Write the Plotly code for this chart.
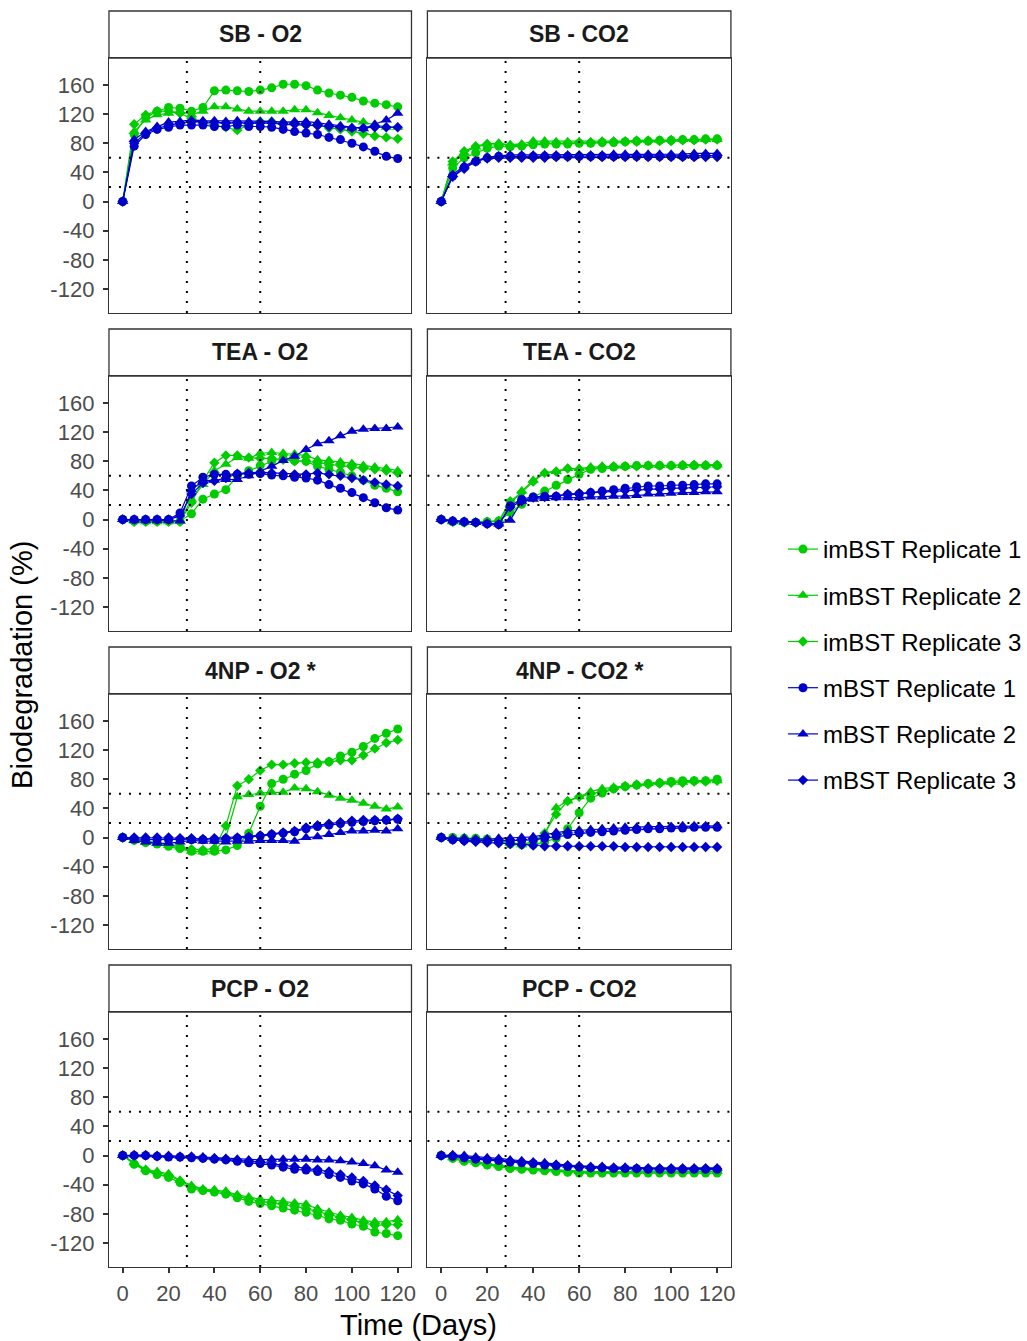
import plotly.graph_objects as go

W, H = 1027, 1341

days = list(range(0, 121, 5))
x_ticks = [0, 20, 40, 60, 80, 100, 120]
y_ticks = [-120, -80, -40, 0, 40, 80, 120, 160]
y_tick_text = ["-120", "-80", "-40", "0", "40", "80", "120", "160"]
ref_days = [28, 60]
ref_levels = [20, 60]

series_names = ["imBST Replicate 1", "imBST Replicate 2", "imBST Replicate 3",
                "mBST Replicate 1", "mBST Replicate 2", "mBST Replicate 3"]
panel_titles = ["SB - O2", "SB - CO2", "TEA - O2", "TEA - CO2",
                "4NP - O2 *", "4NP - CO2 *", "PCP - O2", "PCP - CO2"]

# ---- SB - O2
sb_o2_im1 = [0, 92, 115, 124, 129, 128, 124, 129, 152, 153, 152, 151, 153, 156, 161, 161, 159, 153, 149, 146, 143, 138, 135, 133, 130]
sb_o2_im2 = [0, 96, 112, 119, 121, 124, 119, 124, 130, 130, 127, 124, 124, 124, 124, 126, 126, 122, 118, 115, 112, 109, 105, 102, 102]
sb_o2_im3 = [0, 106, 119, 124, 124, 121, 114, 108, 105, 102, 98, 105, 110, 110, 108, 108, 105, 105, 101, 99, 96, 93, 90, 88, 86]
sb_o2_m1 = [0, 76, 92, 99, 102, 105, 105, 105, 103, 103, 105, 103, 103, 102, 99, 96, 94, 92, 88, 85, 80, 75, 69, 62, 59]
sb_o2_m2 = [0, 85, 96, 103, 109, 110, 112, 111, 111, 110, 111, 110, 110, 110, 109, 110, 110, 108, 106, 104, 101, 100, 106, 112, 121]
sb_o2_m3 = [0, 80, 94, 101, 104, 108, 110, 109, 109, 108, 108, 108, 108, 108, 106, 106, 105, 104, 103, 102, 101, 101, 102, 102, 102]

# ---- SB - CO2
sb_co2_im1 = [0, 46, 60, 67, 73, 76, 75, 76, 78, 79, 79, 79, 80, 80, 81, 81, 82, 83, 83, 84, 84, 85, 85, 86, 86]
sb_co2_im2 = [0, 53, 67, 75, 79, 80, 78, 79, 83, 83, 82, 82, 82, 82, 83, 83, 83, 84, 84, 84, 85, 85, 85, 85, 85]
sb_co2_im3 = [0, 55, 69, 76, 79, 79, 77, 77, 80, 80, 80, 80, 81, 81, 81, 82, 82, 82, 83, 83, 83, 84, 84, 85, 85]
sb_co2_m1 = [0, 35, 47, 55, 60, 62, 62, 62, 62, 62, 62, 62, 62, 62, 62, 62, 62, 62, 62, 62, 62, 62, 62, 63, 63]
sb_co2_m2 = [0, 37, 49, 56, 61, 63, 64, 64, 64, 64, 64, 64, 64, 64, 64, 65, 65, 65, 65, 65, 65, 65, 66, 66, 66]
sb_co2_m3 = [0, 34, 45, 55, 59, 60, 60, 60, 60, 60, 61, 61, 61, 61, 61, 61, 61, 61, 61, 61, 61, 61, 61, 61, 61]

# ---- TEA - O2
tea_o2_im1 = [0, -2, -2, -2, -2, -2, 8, 28, 35, 41, 60, 67, 74, 80, 84, 81, 80, 73, 69, 65, 60, 54, 47, 43, 38]
tea_o2_im2 = [0, -2, -3, -3, -3, -2, 28, 48, 67, 76, 85, 84, 91, 92, 91, 90, 88, 82, 81, 79, 77, 74, 72, 70, 67]
tea_o2_im3 = [0, -3, -3, -3, -3, -3, 23, 53, 78, 88, 88, 85, 84, 84, 82, 80, 80, 78, 75, 74, 72, 70, 69, 67, 64]
tea_o2_m1 = [0, 0, 0, 0, 0, 9, 46, 58, 62, 62, 62, 62, 63, 61, 60, 58, 57, 54, 48, 43, 37, 30, 23, 16, 13]
tea_o2_m2 = [0, -1, -1, -1, -1, -2, 41, 53, 54, 55, 55, 60, 66, 73, 81, 87, 96, 104, 108, 115, 121, 124, 125, 125, 127]
tea_o2_m3 = [0, 0, 0, 0, 0, 5, 35, 50, 53, 57, 63, 64, 65, 64, 63, 62, 62, 64, 62, 60, 57, 54, 51, 48, 46]

# ---- TEA - CO2
tea_co2_im1 = [0, -3, -4, -4, -3, -2, 10, 21, 31, 39, 47, 55, 62, 69, 70, 72, 73, 74, 74, 74, 74, 74, 74, 74, 74]
tea_co2_im2 = [0, -3, -4, -4, -3, -2, 21, 39, 54, 64, 66, 70, 70, 72, 73, 73, 73, 74, 74, 74, 74, 74, 75, 75, 75]
tea_co2_im3 = [0, -3, -4, -4, -3, -2, 25, 37, 52, 64, 66, 70, 69, 70, 72, 73, 73, 73, 74, 74, 74, 75, 75, 75, 75]
tea_co2_m1 = [0, -2, -3, -4, -6, -7, 19, 28, 31, 32, 32, 34, 35, 37, 39, 41, 43, 45, 46, 46, 47, 47, 48, 49, 49]
tea_co2_m2 = [0, -2, -3, -4, -5, -6, -1, 25, 28, 29, 30, 30, 30, 31, 31, 32, 32, 33, 35, 35, 36, 37, 37, 38, 38]
tea_co2_m3 = [0, -2, -3, -4, -6, -7, 17, 25, 30, 31, 32, 35, 36, 37, 38, 39, 40, 41, 42, 42, 43, 43, 44, 44, 45]

# ---- 4NP - O2
np_o2_im1 = [0, -4, -7, -9, -12, -15, -19, -19, -19, -17, -11, 6, 43, 74, 80, 87, 92, 101, 104, 112, 117, 125, 136, 143, 149]
np_o2_im2 = [0, -4, -6, -8, -11, -13, -19, -20, -19, 0, 56, 59, 61, 62, 62, 68, 67, 63, 58, 54, 51, 47, 43, 39, 42]
np_o2_im3 = [0, -3, -5, -7, -10, -12, -16, -17, -15, 16, 71, 80, 92, 100, 100, 102, 103, 103, 104, 106, 106, 113, 122, 130, 134]
np_o2_m1 = [0, -2, -3, -3, -3, -3, -3, -3, -3, -2, -1, 0, 2, 4, 6, 8, 12, 15, 17, 19, 21, 22, 23, 24, 25]
np_o2_m2 = [0, -4, -6, -8, -8, -6, -4, -5, -5, -6, -5, -5, -4, -4, -4, -5, 0, 1, 4, 7, 9, 9, 10, 9, 12]
np_o2_m3 = [0, 0, 0, 0, 0, -1, -1, -2, -1, -1, 0, 1, 3, 5, 7, 9, 14, 17, 19, 21, 23, 24, 24, 24, 26]

# ---- 4NP - CO2
np_co2_im1 = [0, 0, -1, -1, -2, -6, -9, -10, -10, -6, -1, 12, 34, 54, 61, 67, 70, 72, 74, 75, 77, 78, 78, 78, 80]
np_co2_im2 = [0, -1, -1, -2, -3, -4, -8, -10, -8, 3, 41, 50, 56, 63, 67, 69, 71, 73, 74, 76, 76, 76, 78, 78, 78]
np_co2_im3 = [0, -1, -1, -2, -3, -4, -7, -9, -6, 6, 32, 50, 56, 60, 63, 67, 70, 72, 73, 74, 75, 75, 77, 77, 78]
np_co2_m1 = [0, -3, -4, -4, -5, -5, -5, -4, -3, -1, 2, 4, 6, 7, 8, 9, 10, 11, 12, 12, 13, 13, 14, 14, 14]
np_co2_m2 = [0, -1, -1, -2, -2, -1, -1, 0, 1, 4, 7, 9, 10, 11, 12, 13, 14, 14, 15, 15, 15, 16, 16, 16, 16]
np_co2_m3 = [0, -3, -5, -6, -7, -8, -9, -10, -11, -12, -12, -12, -12, -12, -12, -12, -13, -13, -13, -13, -13, -13, -13, -13, -13]

# ---- PCP - O2
pcp_o2_im1 = [0, -12, -21, -26, -30, -37, -46, -48, -50, -53, -58, -63, -66, -69, -72, -75, -78, -82, -87, -89, -94, -97, -105, -107, -110]
pcp_o2_im2 = [0, -10, -19, -22, -25, -34, -41, -46, -47, -49, -54, -57, -60, -61, -63, -65, -67, -73, -78, -82, -85, -89, -91, -91, -88]
pcp_o2_im3 = [0, -11, -20, -24, -27, -35, -43, -47, -49, -51, -56, -60, -63, -65, -67, -70, -73, -77, -82, -85, -89, -92, -96, -95, -95]
pcp_o2_m1 = [0, 0, 0, -1, -2, -2, -3, -4, -5, -6, -8, -10, -11, -13, -16, -19, -20, -22, -26, -30, -35, -39, -46, -56, -62]
pcp_o2_m2 = [0, 1, 1, 0, 0, -1, -1, -2, -3, -4, -5, -6, -6, -5, -5, -5, -5, -6, -6, -7, -9, -11, -14, -20, -23]
pcp_o2_m3 = [0, 0, 0, -1, -1, -2, -2, -3, -4, -5, -6, -7, -9, -11, -13, -15, -17, -19, -22, -26, -30, -35, -41, -47, -55]

# ---- PCP - CO2
pcp_co2_im1 = [0, -4, -8, -10, -13, -15, -18, -19, -20, -21, -22, -23, -24, -24, -24, -24, -24, -24, -24, -24, -24, -24, -24, -24, -24]
pcp_co2_im2 = [0, -3, -6, -9, -11, -13, -16, -17, -18, -19, -20, -21, -22, -22, -22, -22, -22, -22, -22, -22, -22, -22, -22, -22, -22]
pcp_co2_im3 = [0, -3, -7, -9, -12, -14, -17, -18, -19, -20, -21, -22, -23, -23, -23, -23, -23, -23, -23, -23, -22, -22, -22, -22, -22]
pcp_co2_m1 = [0, -1, -3, -5, -6, -7, -9, -10, -11, -13, -14, -15, -16, -17, -17, -18, -18, -18, -19, -19, -19, -19, -19, -19, -19]
pcp_co2_m2 = [0, 1, 0, -2, -3, -4, -6, -7, -9, -10, -12, -13, -14, -15, -15, -16, -16, -17, -17, -17, -17, -17, -17, -17, -17]
pcp_co2_m3 = [0, 0, -2, -4, -5, -6, -8, -9, -10, -12, -13, -14, -15, -16, -16, -17, -17, -18, -18, -18, -18, -18, -18, -18, -18]

panel_series = [
    [sb_o2_im1, sb_o2_im2, sb_o2_im3, sb_o2_m1, sb_o2_m2, sb_o2_m3],
    [sb_co2_im1, sb_co2_im2, sb_co2_im3, sb_co2_m1, sb_co2_m2, sb_co2_m3],
    [tea_o2_im1, tea_o2_im2, tea_o2_im3, tea_o2_m1, tea_o2_m2, tea_o2_m3],
    [tea_co2_im1, tea_co2_im2, tea_co2_im3, tea_co2_m1, tea_co2_m2, tea_co2_m3],
    [np_o2_im1, np_o2_im2, np_o2_im3, np_o2_m1, np_o2_m2, np_o2_m3],
    [np_co2_im1, np_co2_im2, np_co2_im3, np_co2_m1, np_co2_m2, np_co2_m3],
    [pcp_o2_im1, pcp_o2_im2, pcp_o2_im3, pcp_o2_m1, pcp_o2_m2, pcp_o2_m3],
    [pcp_co2_im1, pcp_co2_im2, pcp_co2_im3, pcp_co2_m1, pcp_co2_m2, pcp_co2_m3],
]

GREEN = "#00CD00"
BLUE = "#0000CD"
colors = [GREEN, GREEN, GREEN, BLUE, BLUE, BLUE]
symbols = ["circle", "triangle-up", "diamond"] * 2
msizes = [9, 10, 8] * 2

FONT = "Liberation Sans, Arial, sans-serif"
AX = "#333333"

col_px = [(109.5, 413.5), (429.5, 734.5)]
row_step = 318
strip_top, panel_top, panel_bot = 11, 58, 313

fig = go.Figure()
layout = dict(
    width=W, height=H,
    margin=dict(l=0, r=0, t=0, b=0),
    paper_bgcolor="white", plot_bgcolor="white",
    font=dict(family=FONT, color="black"),
    showlegend=True,
)
shapes = []
annotations = []

for idx, title in enumerate(panel_titles):
    r, c = divmod(idx, 2)
    n = idx + 1
    xs = "" if n == 1 else str(n)
    x0p, x1p = col_px[c]
    off = r * row_step
    xdom = [x0p / W, x1p / W]
    ydom = [1 - (panel_bot + off) / H, 1 - (panel_top + off) / H]

    for k, vals in enumerate(panel_series[idx]):
        fig.add_trace(go.Scatter(
            x=days, y=vals, mode="lines+markers",
            name=series_names[k], legendgroup=series_names[k],
            showlegend=(idx == 0),
            line=dict(color=colors[k], width=1.2),
            marker=dict(color=colors[k], symbol=symbols[k], size=msizes[k], line=dict(width=0)),
            xaxis="x" + xs, yaxis="y" + xs,
        ))

    layout["xaxis" + xs] = dict(
        domain=xdom, range=[-6, 126], anchor="y" + xs,
        showgrid=False, zeroline=False, showline=True, mirror=True,
        linecolor=AX, linewidth=1.3,
        tickmode="array", tickvals=x_ticks,
        showticklabels=(r == 3), ticks="outside" if r == 3 else "",
        ticklen=5, tickwidth=1.5, tickcolor=AX,
        ticklabelstandoff=1,
        tickfont=dict(family=FONT, size=22, color="#4D4D4D"),
    )
    layout["yaxis" + xs] = dict(
        domain=ydom, range=[-153, 197], anchor="x" + xs,
        showgrid=False, zeroline=False, showline=True, mirror=True,
        linecolor=AX, linewidth=1.3,
        tickmode="array", tickvals=y_ticks, ticktext=y_tick_text,
        showticklabels=(c == 0), ticks="outside" if c == 0 else "",
        ticklen=5, tickwidth=1.5, tickcolor=AX,
        ticklabelstandoff=4,
        tickfont=dict(family=FONT, size=22, color="#4D4D4D"),
    )

    # reference dotted lines
    for d in ref_days:
        shapes.append(dict(type="line", xref="x" + xs, yref="y" + xs + " domain",
                           x0=d, x1=d, y0=0, y1=1,
                           line=dict(color="black", width=2, dash="2px,8px")))
    for lv in ref_levels:
        shapes.append(dict(type="line", xref="x" + xs + " domain", yref="y" + xs,
                           x0=0, x1=1, y0=lv, y1=lv,
                           line=dict(color="black", width=2, dash="2px,8px")))

    # strip
    sy0 = 1 - (panel_top + off) / H
    sy1 = 1 - (strip_top + off) / H
    shapes.append(dict(type="rect", xref="paper", yref="paper",
                       x0=xdom[0], x1=xdom[1], y0=sy0, y1=sy1,
                       fillcolor="white", line=dict(color=AX, width=1.3), layer="below"))
    annotations.append(dict(text="<b>" + title + "</b>", xref="paper", yref="paper",
                            x=(xdom[0] + xdom[1]) / 2, y=(sy0 + sy1) / 2,
                            xanchor="center", yanchor="middle", showarrow=False,
                            font=dict(family=FONT, size=23, color="#1A1A1A")))

annotations.append(dict(text="Biodegradation (%)", xref="paper", yref="paper",
                        x=22 / W, y=1 - 665 / H, textangle=-90,
                        xanchor="center", yanchor="middle", showarrow=False,
                        font=dict(family=FONT, size=29, color="black")))
annotations.append(dict(text="Time (Days)", xref="paper", yref="paper",
                        x=421 / W, y=1 - 1325 / H,
                        xanchor="center", yanchor="middle", showarrow=False,
                        font=dict(family=FONT, size=29, color="black")))

layout["shapes"] = shapes
layout["annotations"] = annotations
layout["legend"] = dict(
    x=787 / W, y=1 - 665 / H, xanchor="left", yanchor="middle",
    font=dict(family=FONT, size=24, color="black"),
    traceorder="grouped", tracegroupgap=12,
    bgcolor="rgba(0,0,0,0)", itemwidth=30,
)
fig.update_layout(**layout)
fig.write_html("out.html")
